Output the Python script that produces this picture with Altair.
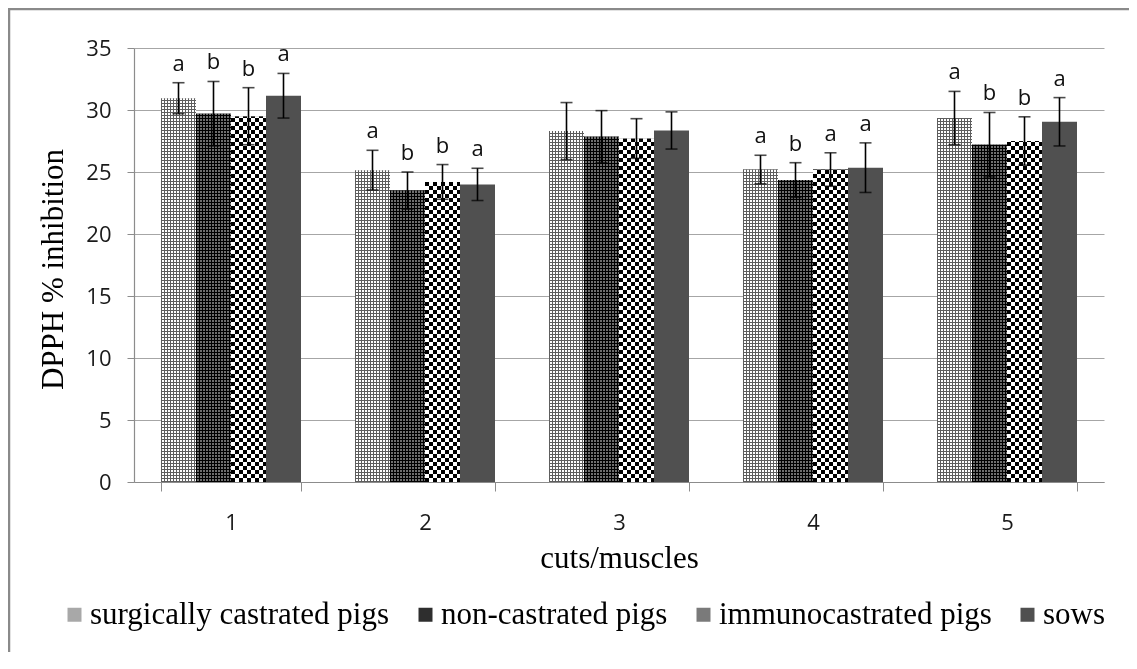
import altair as alt
import pandas as pd

cuts = ["1", "2", "3", "4", "5"]
series = ["surgically castrated pigs", "non-castrated pigs", "immunocastrated pigs", "sows"]

mean_surg = [30.95, 25.15, 28.3, 25.2, 29.35]
mean_non = [29.7, 23.5, 27.85, 24.35, 27.2]
mean_imm = [29.5, 24.2, 27.7, 25.2, 27.5]
mean_sows = [31.15, 24.0, 28.35, 25.35, 29.05]

err_surg = [1.25, 1.6, 2.3, 1.15, 2.15]
err_non = [2.6, 1.5, 2.1, 1.4, 2.6]
err_imm = [2.3, 1.4, 1.6, 1.35, 1.95]
err_sows = [1.8, 1.3, 1.5, 2.0, 1.95]

let_surg = ["a", "a", "", "a", "a"]
let_non = ["b", "b", "", "b", "b"]
let_imm = ["b", "b", "", "a", "b"]
let_sows = ["a", "a", "", "a", "a"]

means = [mean_surg, mean_non, mean_imm, mean_sows]
errs = [err_surg, err_non, err_imm, err_sows]
lets = [let_surg, let_non, let_imm, let_sows]

rows = []
for si, s in enumerate(series):
    for ci, c in enumerate(cuts):
        m = means[si][ci]
        e = errs[si][ci]
        rows.append({"cut": c, "series": s, "mean": m, "lo": m - e, "hi": m + e,
                     "letter": lets[si][ci]})
df = pd.DataFrame(rows)

# ---- layout / style constants ----
W, H = 970, 434
Y_MAX = 35
BAR_W = 35  # pixel width of one bar (band 140 / 4)
PAD = {"left": 126, "top": 40, "right": 25, "bottom": 170}

FONT_SERIF = "Liberation Serif"
FONT_SANS = "Open Sans"


def stripe_gradient(length_px, on_px, off_px, c_on, c_off, vertical_from_bottom):
    """Hard-stop gradient that repeats c_on (on_px) / c_off (off_px) along a bar."""
    stops = []
    pos = 0.0
    cur_on = True
    while pos < length_px:
        seg = on_px if cur_on else off_px
        col = c_on if cur_on else c_off
        end = min(pos + seg, length_px)
        stops.append({"offset": round(pos / length_px, 6), "color": col})
        stops.append({"offset": round(end / length_px, 6), "color": col})
        pos = end
        cur_on = not cur_on
    g = {"gradient": "linear", "stops": stops}
    if vertical_from_bottom:
        g.update({"x1": 0, "y1": 1, "x2": 0, "y2": 0})
    else:
        g.update({"x1": 0, "y1": 0, "x2": 1, "y2": 0})
    return g


x_enc = alt.X("cut:N",
              scale=alt.Scale(domain=cuts, paddingInner=54 / 194, paddingOuter=27 / 194),
              axis=alt.Axis(tickBand="extent", labelAngle=0, tickSize=9, labelPadding=21,
                            title="cuts/muscles", titleX=485, titleY=85,
                            titleBaseline="alphabetic", titleAlign="center"))
xo_enc = alt.XOffset("series:N", scale=alt.Scale(domain=series, paddingInner=0, paddingOuter=0))
y_enc = alt.Y("mean:Q", scale=alt.Scale(domain=[0, Y_MAX], nice=False),
              axis=alt.Axis(values=[0, 5, 10, 15, 20, 25, 30, 35], tickSize=7, labelPadding=16,
                            title="DPPH % inhibition", titleX=-72, titleY=221,
                            titleBaseline="alphabetic", titleAlign="center"))

base = alt.Chart(df).encode(x=x_enc, xOffset=xo_enc)

bars = base.mark_bar().encode(
    y=y_enc,
    color=alt.Color("series:N", scale=alt.Scale(domain=series,
                                                range=["#a8a8a8", "#2e2e2e", "#7a7a7a", "#505050"]),
                    legend=alt.Legend(title=None, orient="none", direction="horizontal",
                                      legendX=-75, legendY=551, symbolType="square",
                                      symbolSize=196, symbolStrokeWidth=0, labelFont=FONT_SERIF,
                                      labelFontSize=31, labelColor="#000", labelOffset=0,
                                      columnPadding=20, labelLimit=0, padding=0,
                                      columns=4)),
)

# pattern definitions: (series index, on px, off px, on colour, off colour, blend)
patterns = [
    (0, 1, 2, "#5e5e5e", "#ffffff", "darken"),
    (1, 1, 2, "#000000", "#6e6e6e", "darken"),
    (2, 4, 4, "#000000", "#ffffff", "difference"),
]

pattern_layers = []
for si, on_px, off_px, c_on, c_off, blend in patterns:
    name = series[si]
    for ci, c in enumerate(cuts):
        h_px = means[si][ci] / Y_MAX * H
        pattern_layers.append(
            base.transform_filter((alt.datum.series == name) & (alt.datum.cut == c))
            .mark_bar(fill=stripe_gradient(h_px, on_px, off_px, c_on, c_off, True))
            .encode(y=alt.Y("mean:Q"))
        )
    pattern_layers.append(
        base.transform_filter(alt.datum.series == name)
        .mark_bar(fill=stripe_gradient(BAR_W, on_px, off_px, c_on, c_off, False), blend=blend)
        .encode(y=alt.Y("mean:Q"))
    )

err_rule = base.mark_rule(color="#000", strokeWidth=1.6).encode(y="lo:Q", y2="hi:Q")
cap_hi = base.mark_tick(color="#000", size=12, thickness=1.6).encode(y="hi:Q")
cap_lo = base.mark_tick(color="#000", size=12, thickness=1.6).encode(y="lo:Q")
labels = base.mark_text(font=FONT_SANS, fontSize=22, baseline="alphabetic", dy=-12,
                        color="#111").encode(y="hi:Q", text="letter:N")

# outer chart-area border (left and top edges; the others fall outside the picture)
frame = alt.Chart(alt.Data(values=[{}]))
frame_left = frame.mark_rule(color="#8a8a8a", strokeWidth=2.5).encode(
    x=alt.value(-125), y=alt.value(-40), y2=alt.value(H + PAD["bottom"]))
frame_top = frame.mark_rule(color="#8a8a8a", strokeWidth=2.5).encode(
    x=alt.value(-126), x2=alt.value(W + PAD["right"]), y=alt.value(-39))

chart = alt.layer(
    bars, *pattern_layers, err_rule, cap_hi, cap_lo, labels, frame_left, frame_top
).properties(
    width=W, height=H,
    autosize=alt.AutoSizeParams(type="none"),
    padding=PAD,
).configure_view(stroke=None).configure_axis(
    domainColor="#8c8c8c", tickColor="#8c8c8c", gridColor="#a6a6a6", domainWidth=1.2,
    labelFont=FONT_SANS, labelFontSize=22, labelColor="#1a1a1a",
    titleFont=FONT_SERIF, titleFontSize=31, titleFontWeight="normal", titleColor="#000",
).configure_axisX(grid=False).configure_axisY(grid=True)

chart.save("out.html", embed_options={"renderer": "svg", "actions": False})
